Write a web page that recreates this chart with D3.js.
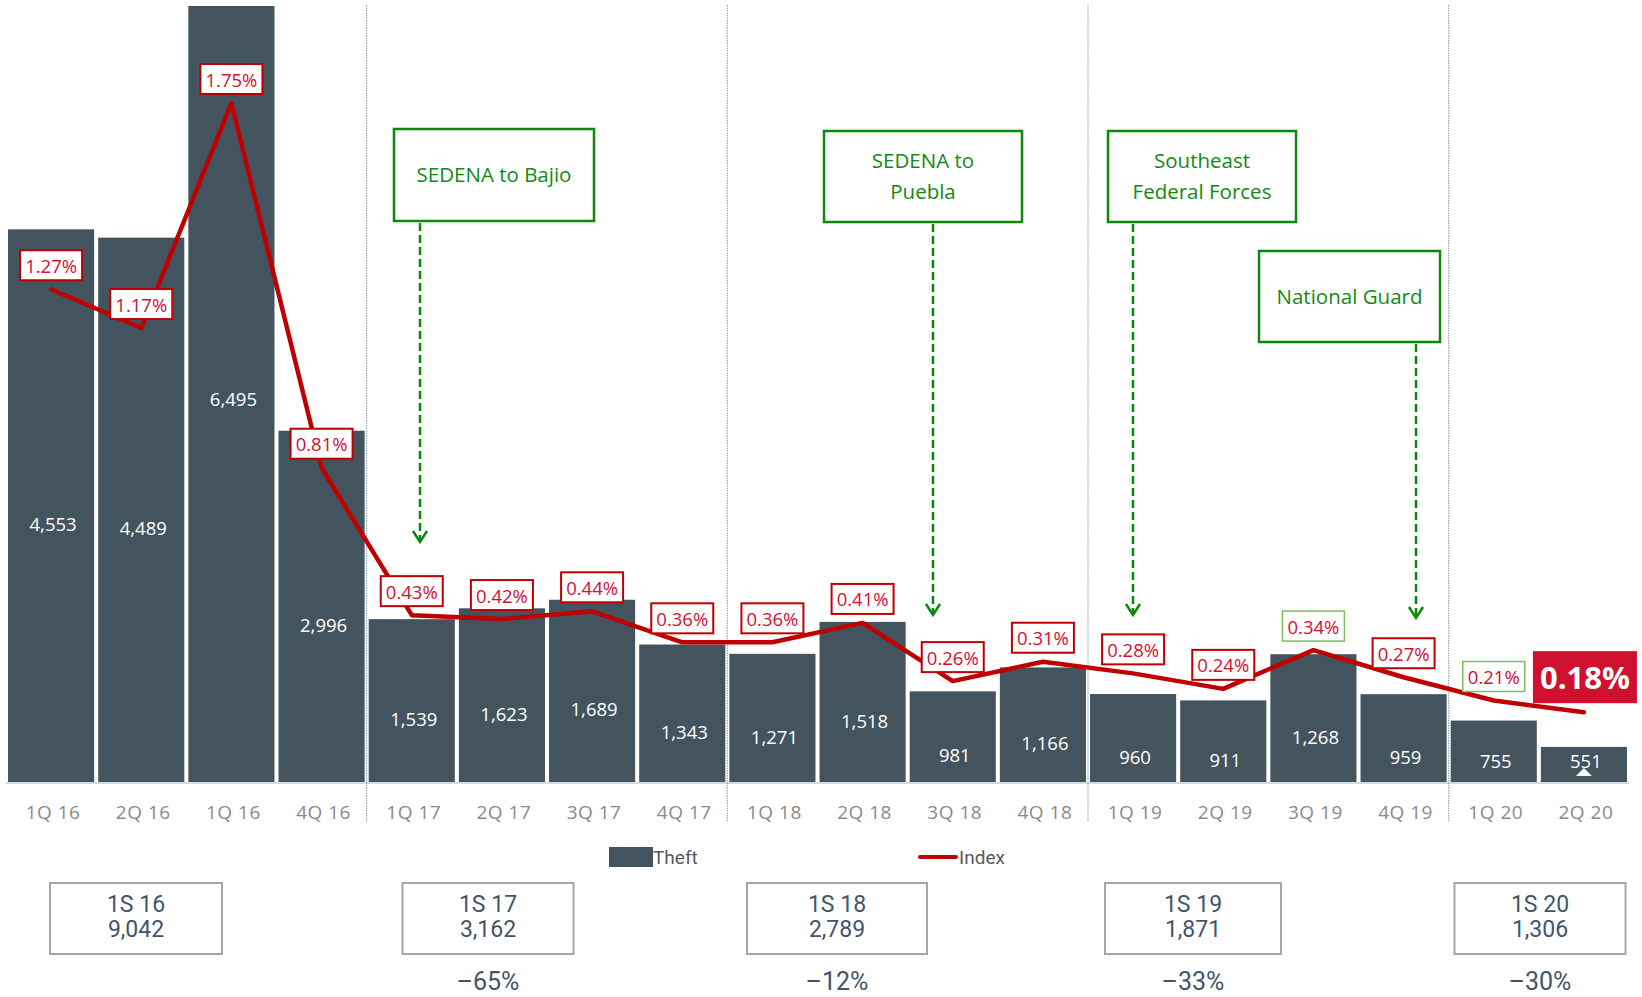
<!DOCTYPE html>
<html>
<head>
<meta charset="utf-8">
<script src="https://cdn.jsdelivr.net/npm/d3@7/dist/d3.min.js"></script>
<style>
  body { margin: 0; background: #fff; }
  svg { display: block; }
</style>
</head>
<body>
<svg id="chart" width="1642" height="997"></svg>
<script>
// Quarterly theft counts and the theft index.
var quarters = ["1Q 16", "2Q 16", "1Q 16", "4Q 16", "1Q 17", "2Q 17", "3Q 17", "4Q 17",
                "1Q 18", "2Q 18", "3Q 18", "4Q 18", "1Q 19", "2Q 19", "3Q 19", "4Q 19",
                "1Q 20", "2Q 20"];
var theft = [4553, 4489, 6495, 2996, 1539, 1623, 1689, 1343,
             1271, 1518, 981, 1166, 960, 911, 1268, 959, 755, 551];
var theftIndex = [1.27, 1.17, 1.75, 0.81, 0.43, 0.42, 0.44, 0.36,
                  0.36, 0.41, 0.26, 0.31, 0.28, 0.24, 0.34, 0.27, 0.21, 0.18];

// First-semester totals and change vs previous year.
var semesters = ["1S 16", "1S 17", "1S 18", "1S 19", "1S 20"];
var semesterTheft = [9042, 3162, 2789, 1871, 1306];
var semesterChange = [null, -65, -12, -33, -30];

// Events called out on the chart.
var events = [["SEDENA to Bajio"], ["SEDENA to", "Puebla"], ["Southeast", "Federal Forces"], ["National Guard"]];

var svg = d3.select("#chart");
var font = "'Open Sans', 'Noto Sans', sans-serif";
var narrow = "'Liberation Sans Narrow', 'Roboto', sans-serif";
var barColor = "#43545e", red = "#c00000", txtRed = "#d50f32", green = "#138a13";

var baseY = 782, topY = 6;

var x = d3.scaleBand()
    .domain(d3.range(quarters.length))
    .range([6, 1629])
    .paddingInner(0.045)
    .paddingOuter(0.0225);

// Bar axis starts above zero, tallest bar is clipped at the top.
var y = d3.scaleLinear().domain([280, 6280]).range([baseY, topY]);
var y2 = d3.scaleLinear().domain([0, 2]).range([baseY, topY]);

var cx = function(i) { return x(i) + x.bandwidth() / 2; };

// bars
svg.append("g").selectAll("rect")
  .data(theft)
  .enter().append("rect")
  .attr("x", function(d, i) { return x(i); })
  .attr("width", x.bandwidth())
  .attr("y", function(d) { return Math.max(topY, y(d)); })
  .attr("height", function(d) { return baseY - Math.max(topY, y(d)); })
  .attr("fill", barColor);

// baseline
svg.append("line")
  .attr("x1", 6).attr("x2", 1629)
  .attr("y1", baseY + 1).attr("y2", baseY + 1)
  .attr("stroke", "#d9d9d9").attr("stroke-width", 2);

// year separators
[4, 8, 12, 16].forEach(function(i) {
  var sx = x(i) - x.step() * x.paddingInner() / 2;
  svg.append("line")
    .attr("x1", sx).attr("x2", sx)
    .attr("y1", 5).attr("y2", 822)
    .attr("stroke", "#8497a8").attr("stroke-width", 1)
    .attr("stroke-dasharray", "1.5,1");
});

// bar value labels, centred on half the value but kept inside the bar
svg.append("g").selectAll("text")
  .data(theft)
  .enter().append("text")
  .attr("x", function(d, i) { return cx(i) + 2; })
  .attr("y", function(d) { return Math.min(y(d / 2), 760); })
  .attr("text-anchor", "middle")
  .attr("dominant-baseline", "central")
  .attr("fill", "#fff")
  .style("font-family", font)
  .style("font-size", "18.5px")
  .text(function(d) { return d3.format(",")(d); });

// small marker under the last bar label
var lastX = cx(quarters.length - 1);
svg.append("path")
  .attr("d", "M" + (lastX - 8) + "," + 776 + "L" + (lastX + 8) + "," + 776 + "L" + lastX + "," + 768 + "Z")
  .attr("fill", "#fff");

// x labels
svg.append("g").selectAll("text")
  .data(quarters)
  .enter().append("text")
  .attr("x", function(d, i) { return cx(i) + 2; })
  .attr("y", 812)
  .attr("text-anchor", "middle")
  .attr("dominant-baseline", "central")
  .attr("fill", "#8a8a8a")
  .style("font-family", font)
  .style("font-size", "19px")
  .style("letter-spacing", "0.5px")
  .text(function(d) { return d; });

// index line
var line = d3.line()
  .x(function(d, i) { return cx(i); })
  .y(function(d) { return y2(d); });

svg.append("path")
  .datum(theftIndex)
  .attr("d", line)
  .attr("fill", "none")
  .attr("stroke", red)
  .attr("stroke-width", 4.5)
  .attr("stroke-linejoin", "round")
  .attr("stroke-linecap", "round");

// index labels
var greenLabels = [14, 16];
var last = theftIndex.length - 1;
var lab = svg.append("g").selectAll("g")
  .data(theftIndex)
  .enter().append("g")
  .attr("transform", function(d, i) { return "translate(" + cx(i) + "," + (y2(d) - 24) + ")"; });

lab.filter(function(d, i) { return i != last; })
  .append("rect")
  .attr("x", -31).attr("y", -15)
  .attr("width", 62).attr("height", 30)
  .attr("fill", "#fff")
  .attr("stroke", function(d, i) { return greenLabels.indexOf(i) >= 0 ? "#7cbf5c" : red; })
  .attr("stroke-width", function(d, i) { return greenLabels.indexOf(i) >= 0 ? 1.5 : 2; });

lab.filter(function(d, i) { return i != last; })
  .append("text")
  .attr("text-anchor", "middle")
  .attr("dominant-baseline", "central")
  .attr("fill", txtRed)
  .style("font-family", font)
  .style("font-size", "18.5px")
  .text(function(d) { return d.toFixed(2) + "%"; });

// latest value highlighted
var hl = svg.append("g")
  .attr("transform", "translate(" + (cx(last) + 1) + "," + (y2(theftIndex[last]) - 35) + ")");
hl.append("rect")
  .attr("x", -52).attr("y", -26)
  .attr("width", 104).attr("height", 52)
  .attr("fill", "#d0102f");
hl.append("text")
  .attr("text-anchor", "middle")
  .attr("dominant-baseline", "central")
  .attr("fill", "#fff")
  .style("font-family", font)
  .style("font-size", "31px")
  .style("font-weight", "bold")
  .text(theftIndex[last].toFixed(2) + "%");

// event callouts: box and dashed arrow
var eventBoxes = [
  {x: 394, y: 129, w: 200, h: 92, ax: 420, ay: 542},
  {x: 824, y: 131, w: 198, h: 91, ax: 933, ay: 615},
  {x: 1108, y: 131, w: 188, h: 91, ax: 1133, ay: 615},
  {x: 1259, y: 251, w: 181, h: 91, ax: 1416, ay: 618}
];

events.forEach(function(lines, k) {
  var b = eventBoxes[k];
  var g = svg.append("g");
  g.append("rect")
    .attr("x", b.x).attr("y", b.y)
    .attr("width", b.w).attr("height", b.h)
    .attr("fill", "#fff")
    .attr("stroke", "#0a8a0a")
    .attr("stroke-width", 2.5);
  lines.forEach(function(t, j) {
    g.append("text")
      .attr("x", b.x + b.w / 2)
      .attr("y", b.y + b.h / 2 - 1 + (j - (lines.length - 1) / 2) * 31)
      .attr("text-anchor", "middle")
      .attr("dominant-baseline", "central")
      .attr("fill", green)
      .style("font-family", font)
      .style("font-size", "20.5px")
      .text(t);
  });
  g.append("line")
    .attr("x1", b.ax).attr("x2", b.ax)
    .attr("y1", b.y + b.h + 2).attr("y2", b.ay)
    .attr("stroke", "#0a8a0a").attr("stroke-width", 2.5)
    .attr("stroke-dasharray", "8,4");
  g.append("path")
    .attr("d", "M" + (b.ax - 7) + "," + (b.ay - 11) + "L" + b.ax + "," + b.ay + "L" + (b.ax + 7) + "," + (b.ay - 11))
    .attr("fill", "none")
    .attr("stroke", "#0a8a0a").attr("stroke-width", 2.5);
});

// legend
var leg = svg.append("g").style("font-family", narrow).style("font-size", "19px").attr("fill", "#595959");
leg.append("rect").attr("x", 609).attr("y", 847).attr("width", 44).attr("height", 20).attr("fill", barColor);
leg.append("text").attr("x", 653).attr("y", 857).attr("dominant-baseline", "central").text("Theft");
leg.append("line").attr("x1", 920).attr("x2", 956).attr("y1", 857).attr("y2", 857)
  .attr("stroke", red).attr("stroke-width", 4).attr("stroke-linecap", "round");
leg.append("text").attr("x", 959).attr("y", 857).attr("dominant-baseline", "central").text("Index");

// semester boxes
var semCenter = [136, 488, 837, 1193, 1540];
var semWidth = [172, 171, 180, 176, 171];
var sem = svg.append("g").style("font-family", narrow).attr("fill", "#44546a");
semesters.forEach(function(s, i) {
  var c = semCenter[i];
  sem.append("rect")
    .attr("x", c - semWidth[i] / 2).attr("y", 883)
    .attr("width", semWidth[i]).attr("height", 71)
    .attr("fill", "#fff").attr("stroke", "#a6a6a6").attr("stroke-width", 2);
  sem.append("text").attr("x", c).attr("y", 904).attr("text-anchor", "middle")
    .attr("dominant-baseline", "central").style("font-size", "23px").text(s);
  sem.append("text").attr("x", c).attr("y", 929).attr("text-anchor", "middle")
    .attr("dominant-baseline", "central").style("font-size", "23px").text(d3.format(",")(semesterTheft[i]));
  if (semesterChange[i] != null) {
    sem.append("text").attr("x", c).attr("y", 981).attr("text-anchor", "middle")
      .attr("dominant-baseline", "central").style("font-size", "25px")
      .text("\u2013" + Math.abs(semesterChange[i]) + "%");
  }
});
</script>
</body>
</html>
